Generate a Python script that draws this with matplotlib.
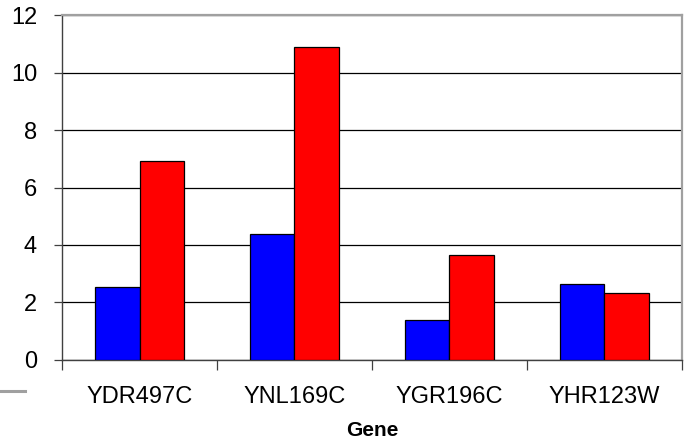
import matplotlib
matplotlib.use("Agg")
import matplotlib.pyplot as plt
import numpy as np
from matplotlib.lines import Line2D

genes = ["YDR497C", "YNL169C", "YGR196C", "YHR123W"]
series_blue = [2.55, 4.37, 1.37, 2.64]
series_red = [6.92, 10.88, 3.64, 2.32]
yticks = [0, 2, 4, 6, 8, 10, 12]
xlabel = "Gene"

plt.rcParams['font.family'] = ['Liberation Sans', 'DejaVu Sans']

fig = plt.figure(figsize=(6.93, 4.47), dpi=100)
ax = fig.add_axes([0.0895, 0.195, 0.8945, 0.771])

x = np.arange(len(genes))
w = 0.286
ax.bar(x - w/2, series_blue, width=w, color='#0000ff', edgecolor='black', linewidth=0.9, zorder=3)
ax.bar(x + w/2, series_red, width=w, color='#ff0000', edgecolor='black', linewidth=0.9, zorder=3)

ax.set_xlim(-0.5, len(genes) - 0.5)
ax.set_ylim(0, 12)
ax.set_yticks(yticks)
ax.set_yticklabels([str(t) for t in yticks], fontsize=17)
ax.yaxis.grid(True, color='black', linewidth=0.9, zorder=1)
ax.set_axisbelow(True)

ax.set_xticks(x)
ax.set_xticklabels(genes, fontsize=17)
ax.tick_params(axis='x', length=0, pad=19)
ax.set_xticks(np.arange(-0.5, len(genes) + 0.5, 1), minor=True)
ax.tick_params(axis='x', which='minor', length=7, width=0.9, color='#404040')
ax.tick_params(axis='y', length=6, width=0.9, color='#404040', pad=12)

ax.set_xlabel(xlabel, fontsize=15, fontweight='bold', labelpad=9)

for s in ['left', 'bottom']:
    ax.spines[s].set_color('#404040')
    ax.spines[s].set_linewidth(1.0)
for s in ['top', 'right']:
    ax.spines[s].set_color('#a0a0a0')
    ax.spines[s].set_linewidth(1.6)

fig.add_artist(Line2D([0, 25/693], [1 - 391/447, 1 - 391/447], color='#a0a0a0', linewidth=2.2))

fig.savefig('out.png', dpi=100)
